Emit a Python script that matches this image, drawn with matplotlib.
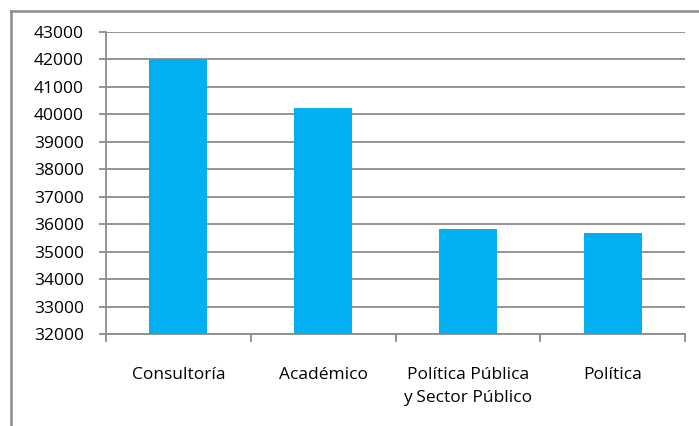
import matplotlib.pyplot as plt
import numpy as np

categorias = ["Consultoría", "Académico", "Política Pública\ny Sector Público", "Política"]
valores = [42000, 40230, 35820, 35680]
y_ticks = list(range(32000, 43001, 1000))

plt.rcParams['font.family'] = ['Open Sans', 'DejaVu Sans']

fig = plt.figure(figsize=(6.99, 4.26), dpi=100)
ax = fig.add_axes([106 / 699, 1 - 334 / 426, (685 - 106) / 699, (334 - 32) / 426])

x = np.arange(len(categorias))
ax.bar(x, valores, width=0.4, color="#00B0F0", zorder=3)

ax.set_ylim(32000, 43000)
ax.set_xlim(-0.5, len(categorias) - 0.5)
ax.set_yticks(y_ticks)
ax.set_yticklabels([str(v) for v in y_ticks], fontsize=12.5)
ax.yaxis.grid(True, color="#8c8c8c", linewidth=1.3, zorder=0)

# x ticks at category boundaries, labels centered
ax.set_xticks(np.arange(-0.5, len(categorias)), minor=False)
ax.set_xticklabels([])
ax.set_xticks(x, minor=True)
ax.set_xticklabels(categorias, minor=True, fontsize=12.5, linespacing=1.55)
ax.tick_params(axis='x', which='minor', length=0, pad=24)
ax.tick_params(axis='x', which='major', length=6, width=1.3, color="#8c8c8c")
ax.tick_params(axis='y', length=5, width=1.3, color="#8c8c8c", pad=11)

for s in ['top', 'right']:
    ax.spines[s].set_visible(False)
for s in ['left', 'bottom']:
    ax.spines[s].set_color("#8c8c8c")
    ax.spines[s].set_linewidth(1.3)

# outer chart border (only left and top visible in the crop)
fig.add_artist(plt.Line2D([11 / 699, 11 / 699], [0, 1 - 11 / 426], color="#8c8c8c", linewidth=1.8))
fig.add_artist(plt.Line2D([11 / 699, 1], [1 - 11 / 426, 1 - 11 / 426], color="#8c8c8c", linewidth=1.8))

fig.savefig("out.png", dpi=100)
